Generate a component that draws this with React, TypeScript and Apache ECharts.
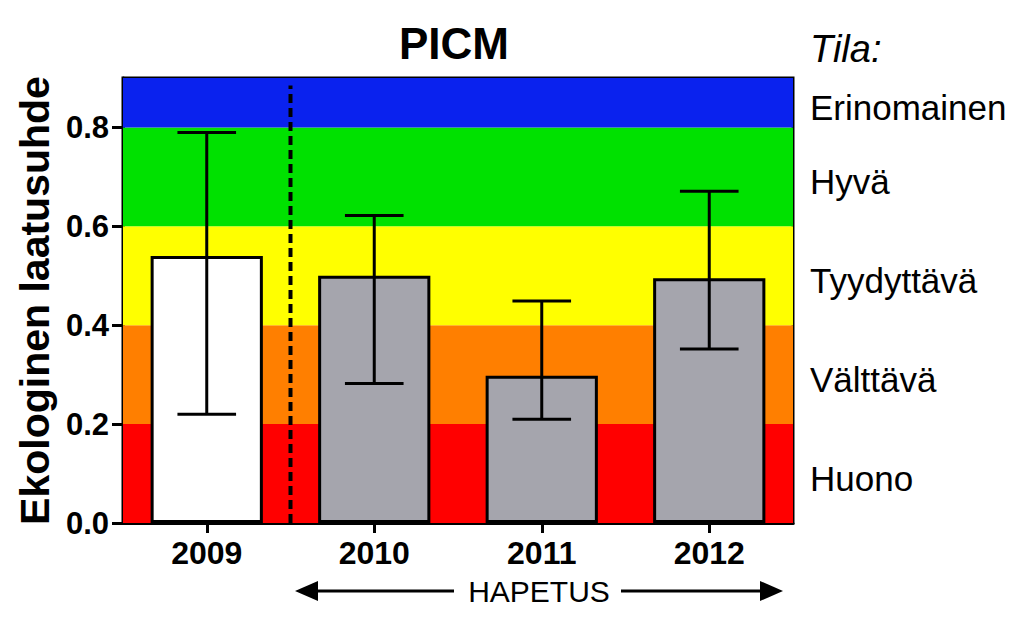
import React, { useEffect, useRef } from "react";
import * as echarts from "echarts";

const years = ["2009", "2010", "2011", "2012"];
const means = [0.54, 0.5, 0.298, 0.495];
const lows = [0.22, 0.282, 0.21, 0.352];
const highs = [0.79, 0.622, 0.449, 0.671];
const barColors = ["#ffffff", "#a5a5ad", "#a5a5ad", "#a5a5ad"];

const bandNames = ["Huono", "Välttävä", "Tyydyttävä", "Hyvä", "Erinomainen"];
const bandFrom = [0, 0.2, 0.4, 0.6, 0.8];
const bandTo = [0.2, 0.4, 0.6, 0.8, 0.9];
const bandColors = ["#ff0000", "#ff7f00", "#ffff00", "#00e100", "#0a22ee"];

const yTicks = [0, 0.2, 0.4, 0.6, 0.8];
const dividerAt = 1; // boundary between 2009 and 2010 (category units)

const FONT = "'Liberation Sans', Arial, Helvetica, sans-serif";

export default function App() {
  const ref = useRef<HTMLDivElement>(null);

  useEffect(() => {
    if (!ref.current) return;
    const chart = echarts.init(ref.current, null, { renderer: "svg" });

    const option: any = {
      animation: false,
      backgroundColor: "#ffffff",
      textStyle: { fontFamily: FONT },
      title: {
        text: "PICM",
        left: 449,
        top: 16,
        textAlign: "center",
        textStyle: { fontFamily: FONT, fontSize: 44, fontWeight: "bold", color: "#000" },
      },
      grid: {
        left: 123,
        right: 231,
        top: 78,
        bottom: 99,
        outerBoundsMode: "none",
        containLabel: false,
        show: true,
        borderColor: "#000",
        borderWidth: 3,
        backgroundColor: "transparent",
      },
      xAxis: [
        {
          type: "category",
          data: years,
          axisLine: { show: true, lineStyle: { color: "#000", width: 3 } },
          axisTick: { show: true, alignWithLabel: true, length: 10, lineStyle: { color: "#000", width: 3 } },
          axisLabel: { margin: 14, fontFamily: FONT, fontSize: 32, fontWeight: "bold", color: "#000" },
          splitLine: { show: false },
        },
        {
          type: "value",
          min: 0,
          max: 4,
          show: false,
        },
      ],
      yAxis: {
        type: "value",
        min: 0,
        max: 0.9,
        interval: 0.2,
        name: "Ekologinen laatusuhde",
        nameLocation: "middle",
        nameGap: 68,
        nameTextStyle: { fontFamily: FONT, fontSize: 41, fontWeight: "bold", color: "#000" },
        axisLine: { show: true, lineStyle: { color: "#000", width: 3 } },
        axisTick: { show: true, length: 11, customValues: yTicks, lineStyle: { color: "#000", width: 3 } },
        axisLabel: {
          margin: 14,
          customValues: yTicks,
          formatter: (v: number) => v.toFixed(1),
          fontFamily: FONT,
          fontSize: 31,
          fontWeight: "bold",
          color: "#000",
        },
        splitLine: { show: false },
      },
      graphic: [
        {
          type: "text",
          left: 810,
          top: 30,
          style: { text: "Tila:", fontFamily: FONT, fontSize: 38, fontStyle: "italic", fill: "#000" },
        },
        {
          type: "text",
          x: 539,
          y: 591,
          style: {
            text: "HAPETUS",
            fontFamily: FONT,
            fontSize: 30,
            fill: "#000",
            align: "center",
            verticalAlign: "middle",
          },
        },
        {
          type: "line",
          shape: { x1: 312, y1: 591, x2: 454, y2: 591 },
          style: { stroke: "#000", lineWidth: 3 },
        },
        {
          type: "polygon",
          shape: { points: [[295, 591], [318, 581], [318, 601]] },
          style: { fill: "#000" },
        },
        {
          type: "line",
          shape: { x1: 621, y1: 591, x2: 766, y2: 591 },
          style: { stroke: "#000", lineWidth: 3 },
        },
        {
          type: "polygon",
          shape: { points: [[783, 591], [760, 581], [760, 601]] },
          style: { fill: "#000" },
        },
      ],
      series: [
        {
          type: "line",
          name: "bands",
          data: [],
          z: 1,
          silent: true,
          markArea: {
            silent: true,
            data: bandNames.map((n, i) => [
              {
                yAxis: bandFrom[i],
                name: n,
                itemStyle: { color: bandColors[i], opacity: 1 },
                label: {
                  show: true,
                  position: "right",
                  distance: 17,
                  formatter: n,
                  fontFamily: FONT,
                  fontSize: 35,
                  color: "#000",
                  offset: [0, 5],
                },
              },
              { yAxis: bandTo[i] },
            ]),
          },
        },
        {
          type: "bar",
          data: means.map((v, i) => ({ value: v, itemStyle: { color: barColors[i] } })),
          barWidth: "67%",
          z: 3,
          itemStyle: { borderColor: "#000", borderWidth: 3 },
        },
        {
          type: "line",
          xAxisIndex: 1,
          data: [
            [dividerAt, 0],
            [dividerAt, 0.885],
          ],
          symbol: "none",
          z: 4,
          lineStyle: { color: "#000", width: 4, type: [9, 5] },
        },
        {
          type: "custom",
          z: 5,
          data: years.map((_, i) => [i, lows[i], highs[i]]),
          renderItem: (params: any, api: any) => {
            const x = api.value(0);
            const lo = api.coord([x, api.value(1)]);
            const hi = api.coord([x, api.value(2)]);
            const half = api.size([1, 0])[0] * 0.175;
            const style = { stroke: "#000", lineWidth: 3 };
            return {
              type: "group",
              children: [
                { type: "line", shape: { x1: lo[0], y1: lo[1], x2: hi[0], y2: hi[1] }, style },
                { type: "line", shape: { x1: hi[0] - half, y1: hi[1], x2: hi[0] + half, y2: hi[1] }, style },
                { type: "line", shape: { x1: lo[0] - half, y1: lo[1], x2: lo[0] + half, y2: lo[1] }, style },
              ],
            };
          },
        },
      ],
    };

    chart.setOption(option);
    return () => chart.dispose();
  }, []);

  return <div ref={ref} style={{ width: 1024, height: 622, position: "absolute", left: 0, top: 0 }} />;
}
